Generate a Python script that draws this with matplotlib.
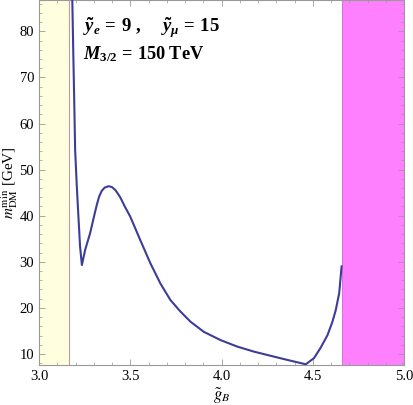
import matplotlib
matplotlib.use("Agg")
import matplotlib.pyplot as plt
from matplotlib.ticker import MultipleLocator

plt.rcParams['font.family'] = ['Liberation Serif', 'DejaVu Serif']
plt.rcParams['mathtext.fontset'] = 'custom'
plt.rcParams['mathtext.rm'] = 'Liberation Serif:bold'
plt.rcParams['mathtext.it'] = 'Liberation Serif:italic:bold'
plt.rcParams['mathtext.bf'] = 'Liberation Serif:bold'

# data
gB = [3.181, 3.188, 3.193, 3.198, 3.207, 3.216, 3.225, 3.235, 3.253, 3.280,
      3.300, 3.317, 3.330, 3.344, 3.360, 3.381, 3.400, 3.420, 3.445, 3.470,
      3.500, 3.555, 3.610, 3.665, 3.720, 3.775, 3.830, 3.903, 3.995, 4.086,
      4.178, 4.269, 4.361, 4.462, 4.507, 4.544, 4.581, 4.608, 4.626, 4.645,
      4.658]
mdm = [90, 75, 65, 54.3, 46.5, 39.8, 33.3, 29.3, 32.6, 36.2,
       39.6, 42.4, 44.2, 45.4, 46.1, 46.4, 46.2, 45.5, 44.0, 42.0,
       39.8, 34.7, 29.7, 25.3, 21.7, 19.2, 17.0, 14.8, 13.0, 11.6,
       10.5, 9.6, 8.7, 7.75, 9.1, 11.4, 14.1, 17.0, 19.5, 23.2,
       29.0]
yellow_band = (3.0, 3.167)
magenta_band = (4.658, 5.0)

fig = plt.figure(figsize=(4.13, 4.05), dpi=100)
ax = fig.add_axes([39/413, 1-365/405, 365/413, 365/405])

ax.axvspan(*yellow_band, facecolor='#ffffe0', edgecolor='none', zorder=1)
ax.axvline(yellow_band[1], color='#c49a9a', lw=0.8, zorder=1.5)
ax.axvspan(*magenta_band, facecolor='#ff80ff', edgecolor='none', zorder=1)
ax.axvline(magenta_band[0], color='#d070d0', lw=0.6, zorder=1.5)

ax.plot(gB, mdm, color='#3d3d99', lw=1.5, zorder=3, solid_joinstyle='round')

ax.set_xlim(3.0, 5.0)
ax.set_ylim(7.6, 86.8)
ax.xaxis.set_minor_locator(MultipleLocator(0.1))
ax.yaxis.set_minor_locator(MultipleLocator(2))
ax.set_xticks([3.0, 3.5, 4.0, 4.5, 5.0])
ax.set_xticklabels(['3.0', '3.5', '4.0', '4.5', '5.0'])
ax.set_yticks([10, 20, 30, 40, 50, 60, 70, 80])
ax.set_yticklabels(['10', '20', '30', '40', '50', '60', '70', '80'])

ax.tick_params(which='both', direction='in', top=True, right=True,
               color='#999999', labelsize=10.5, labelcolor='black')
ax.tick_params(which='major', length=4.5, width=0.6)
ax.tick_params(which='minor', length=2.5, width=0.5)
for s in ax.spines.values():
    s.set_color('#999999')
    s.set_linewidth(0.8)

ax.set_xlabel(r'$\tilde{g}_B$', fontsize=12, math_fontfamily='stix', labelpad=2)
ax.set_ylabel(r'$m_{\rm DM}^{\rm min}$ [GeV]', fontsize=11, math_fontfamily='stix')
ax.yaxis.set_label_coords(-0.052, 0.5)

ax.text(3.242, 79.8, r'$\tilde{y}_e\, =\, 9\ ,\ \ \ \ \tilde{y}_\mu\, =\, 15$', fontsize=13.5,
        va='baseline', ha='left', zorder=4)
ax.text(3.242, 73.9, r'$M_{3/2}\, =\, 150\; \mathrm{TeV}$', fontsize=13.2,
        va='baseline', ha='left', zorder=4)

fig.savefig('out.png', dpi=100)
